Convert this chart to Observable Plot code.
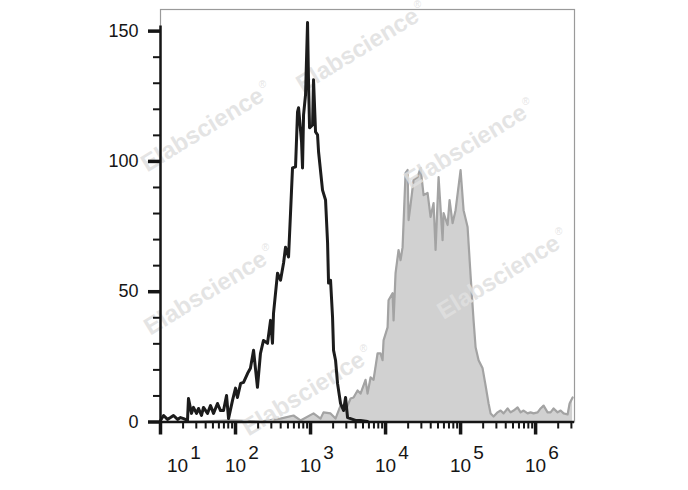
<!DOCTYPE html>
<html><head><meta charset="utf-8">
<script src="https://cdn.jsdelivr.net/npm/d3@7"></script>
<script src="https://cdn.jsdelivr.net/npm/@observablehq/plot@0.6"></script>
<style>body{margin:0;background:#fff;} svg{display:block;}</style>
</head><body><div id="chart"></div>
<script>
// Black (unfilled) histogram: fluorescence intensity and event count
const blackX = [10,11.0,12.4,13.6,14.9,16.9,18.5,20.3,22.9,23.6,
  25.9,27.5,30.2,32.1,35.2,37.4,42.3,46.4,50.9,57.5,
  63.1,69.2,75.9,80.7,91.2,100,106,117,128,145,
  158,174,196,215,236,267,293,311,321,363,
  398,437,464,509,541,575,631,671,692,759,
  782,807,858,912,940,970,1064,1096,1166,1240,
  1279,1445,1585,1687,1738,1848,1965,2027,2154,2291,
  2512,2754,2929,3115,3415,3981,4642,5754];
const blackY = [0.6,2.5,1.0,1.7,2.5,1.0,1.7,1.3,0.6,9.0,
  3.3,5.6,3.3,5.2,2.5,5.6,3.3,6.3,3.3,7.1,
  4.4,4.4,10.2,1.3,8.3,13.0,9.4,14.8,15.2,18.7,
  20.6,27.5,13.3,26.3,31.3,30.2,39.0,30.2,41.7,57.1,
  54.4,61.0,67.1,63.3,80.2,97.5,97.9,119.0,120.6,107.5,
  97.5,117.9,125.6,153.3,130.6,112.9,114.0,131.3,111.3,110.2,
  103.7,89.0,85.2,68.7,53.3,54.4,40.2,27.5,23.7,14.8,
  7.1,4.4,9.4,1.7,1.3,0.6,0.6,0.2];
// Gray (filled) histogram
const grayX = [10,34.1,85.8,215,398,593,736,1096,1359,1490,
  1848,2154,2512,2929,3415,3744,4234,4642,5412,5754,
  6310,6918,7822,8577,9120,9404,10640,10960,12400,12790,
  13590,14900,15850,16870,18480,19650,20270,21540,23620,26710,
  29290,32120,36310,39810,43650,46420,50910,57540,59350,67140,
  71300,78200,85770,100000,109600,124000,135900,149000,158500,173800,
  196500,215400,236200,251200,275400,311500,341500,374400,423400,464200,
  509100,575400,631000,691800,782300,857700,940500,1064000,1166000,1279000,
  1445000,1585000,1738000,1965000,2154000,2362000,2671000,2839000,3115000];
const grayY = [0,0.2,0.6,0.2,1.3,2.5,0.6,3.3,1.3,3.7,
  3.3,1.3,6.3,4.4,9.0,9.4,12.1,10.9,16.2,10.9,
  17.1,16.2,26.3,26.3,23.7,31.3,36.3,46.7,49.4,39.0,
  57.1,66.0,62.1,67.1,95.6,96.7,77.5,83.3,92.9,94.0,
  97.5,87.1,87.9,78.7,84.0,66.0,94.0,69.8,80.2,75.6,
  85.2,76.3,81.3,96.7,81.3,74.8,56.3,39.0,28.7,23.7,
  20.6,14.0,7.1,3.3,2.1,3.7,4.4,3.3,5.2,3.7,
  4.4,5.6,3.7,4.4,3.3,3.7,3.3,3.7,5.2,6.3,
  3.7,3.7,5.2,3.7,4.4,3.3,2.9,7.1,9.4];
// Axis ticks
const xMajor = [1e1,1e2,1e3,1e4,1e5,1e6];
const xExponents = ["1","2","3","4","5","6"];
const xMinor = xMajor.flatMap(p => [2,3,4,5,6,7,8,9].map(m => m * p)).filter(v => v < 3.2e6);
const yMajor = [0,50,100,150];
const yMinor = [10,20,30,40,60,70,80,90,110,120,130,140];
// Watermark anchors (in data space)
const wmX = [4230, 36.3, 116600, 39.8, 321000, 807];
const wmY = [142.8, 112.2, 105.7, 49.5, 55.6, 10.9];
const wmText = "Elabscience";

const black = blackX.map((x, i) => ({x, y: blackY[i]}));
const gray = grayX.map((x, i) => ({x, y: grayY[i]}));
const wm = wmX.map((x, i) => ({x, y: wmY[i]}));
const ticks = xMajor.map((x, i) => ({x, e: xExponents[i]}));

const chart = Plot.plot({
  width: 688, height: 490,
  marginTop: 9, marginBottom: 68.5, marginLeft: 160, marginRight: 114,
  x: {type: "log", domain: [10, 3.3e6], axis: null, label: null},
  y: {domain: [0, 158.3], axis: null, label: null},
  style: {fontFamily: "'Liberation Sans', Arial, sans-serif", background: "#fff", color: "#151515"},
  marks: [
    Plot.frame({stroke: "#9a9a9a", strokeWidth: 1.2}),
    Plot.areaY(gray, {x: "x", y: "y", fill: "#d1d1d1"}),
    Plot.lineY(gray, {x: "x", y: "y", stroke: "#a3a3a3", strokeWidth: 2.2}),
    Plot.text(wm, {x: "x", y: "y", text: () => wmText, rotate: -31.5, fontSize: 24, fontWeight: "bold", fill: "#e0e0e0", fillOpacity: 0.85}),
    Plot.text(wm, {x: "x", y: "y", text: () => "®", dx: 60, dy: -45, fontSize: 10, fill: "#e0e0e0", fillOpacity: 0.85}),
    Plot.lineY(black, {x: "x", y: "y", stroke: "#1c1c1c", strokeWidth: 3}),
    Plot.ruleX([10], {y1: 0, y2: 152, stroke: "#151515", strokeWidth: 2.5}),
    Plot.ruleY([0], {stroke: "#151515", strokeWidth: 2.5}),
    Plot.axisY({ticks: yMinor, tickSize: 7, tickFormat: () => "", strokeWidth: 2, label: null}),
    Plot.axisY({ticks: yMajor, tickSize: 12, tickPadding: 10, strokeWidth: 3.5, fontSize: 18, label: null, tickFormat: d => String(d)}),
    Plot.axisX({ticks: xMinor, tickSize: 7, tickFormat: () => "", strokeWidth: 2, label: null}),
    Plot.axisX({ticks: xMajor, tickSize: 13, tickFormat: () => "", strokeWidth: 3.5, label: null}),
    Plot.text(ticks.slice(0, 1), {x: "x", frameAnchor: "bottom", text: () => "10", dy: 50, dx: 17, fontSize: 19}),
    Plot.text(ticks.slice(0, 1), {x: "x", frameAnchor: "bottom", text: "e", dy: 37, dx: 35, fontSize: 19}),
    Plot.text(ticks.slice(1), {x: "x", frameAnchor: "bottom", text: () => "10", dy: 50, fontSize: 19}),
    Plot.text(ticks.slice(1), {x: "x", frameAnchor: "bottom", text: "e", dy: 37, dx: 18, fontSize: 19})
  ]
});
document.getElementById("chart").append(chart);
</script>
</body></html>
